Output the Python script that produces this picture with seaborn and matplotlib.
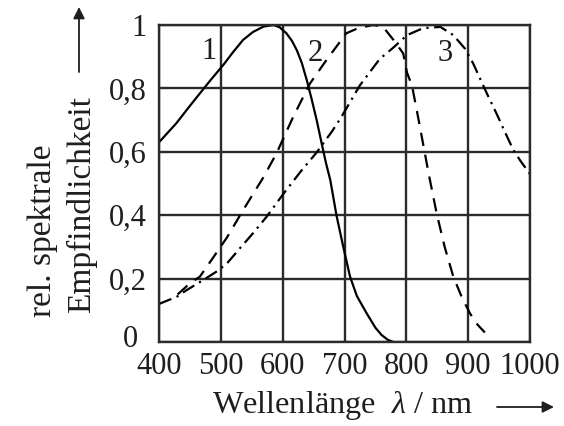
import numpy as np
import pandas as pd
import matplotlib
matplotlib.use("Agg")
import matplotlib.pyplot as plt
import matplotlib.transforms as mtransforms
import seaborn as sns

# ---- data ----
wl1 = [400, 428, 450, 466, 485, 504, 520, 536, 552, 569, 585, 595, 606, 615, 623, 631, 639, 647, 655, 663, 670, 677, 687, 698, 709, 720, 736, 750, 760, 770, 779]
s1 = [0.63, 0.69, 0.745, 0.784, 0.83, 0.874, 0.915, 0.953, 0.978, 0.995, 1.0, 0.993, 0.974, 0.95, 0.92, 0.88, 0.826, 0.765, 0.70, 0.627, 0.565, 0.511, 0.40, 0.30, 0.206, 0.145, 0.09, 0.045, 0.022, 0.007, 0.0]

wl2 = [430, 450, 466, 485, 510, 536, 569, 590, 617, 644, 671, 703, 722, 746, 762, 782, 795, 801, 809, 817, 828, 836, 849, 862, 876, 890, 903, 915, 927]
s2 = [0.15, 0.185, 0.206, 0.259, 0.33, 0.416, 0.52, 0.595, 0.71, 0.815, 0.89, 0.974, 0.99, 1.0, 0.995, 0.946, 0.91, 0.85, 0.81, 0.73, 0.616, 0.532, 0.406, 0.30, 0.206, 0.14, 0.09, 0.055, 0.03]

wl3 = [400, 429, 445, 472, 493, 510, 531, 552, 574, 601, 630, 655, 680, 695, 725, 757, 778, 801, 827, 855, 876, 895, 908, 930, 946, 960, 973, 985, 1000]
s3 = [0.12, 0.143, 0.164, 0.196, 0.222, 0.248, 0.296, 0.343, 0.395, 0.467, 0.54, 0.598, 0.665, 0.71, 0.81, 0.893, 0.927, 0.968, 0.99, 0.994, 0.968, 0.925, 0.879, 0.785, 0.72, 0.66, 0.606, 0.57, 0.53]

curve_labels = ["1", "2", "3"]
label_x = [481, 652, 862]
label_y = [0.915, 0.91, 0.91]

x_ticks = [400, 500, 600, 700, 800, 900, 1000]
x_ticklabels = ["400", "500", "600", "700", "800", "900", "1000"]
y_ticks = [0, 0.2, 0.4, 0.6, 0.8, 1.0]
y_ticklabels = ["0", "0,2", "0,4", "0,6", "0,8", "1"]

# ---- style ----
sns.set_style("white")
plt.rcParams["font.family"] = ["Liberation Serif", "DejaVu Serif"]
plt.rcParams["mathtext.fontset"] = "custom"
plt.rcParams["mathtext.it"] = "Liberation Serif:italic"
plt.rcParams["mathtext.rm"] = "Liberation Serif"

W, H = 564, 426
fig = plt.figure(figsize=(W / 100, H / 100), dpi=100)
ax = fig.add_axes([159 / W, 1 - 342 / H, (530 - 159) / W, (342 - 25) / H])

gridc = "#2b2b2b"
txtc = "#1e1e1e"
FS = 22

df1 = pd.DataFrame({"wl": wl1, "s": s1})
df2 = pd.DataFrame({"wl": wl2, "s": s2})
df3 = pd.DataFrame({"wl": wl3, "s": s3})

sns.lineplot(data=df1, x="wl", y="s", ax=ax, color="black", lw=1.6, estimator=None, sort=False)
sns.lineplot(data=df2, x="wl", y="s", ax=ax, color="black", lw=1.6, estimator=None, sort=False,
             linestyle=(0, (6, 4)))
sns.lineplot(data=df3, x="wl", y="s", ax=ax, color="black", lw=1.6, estimator=None, sort=False,
             linestyle=(0, (6, 2.5, 1, 2.5)))

for t, lx, ly in zip(curve_labels, label_x, label_y):
    ax.text(lx, ly, t, fontsize=FS, ha="center", va="center", color=txtc)

ax.set_xlim(400, 1000)
ax.set_ylim(0, 1)
ax.set_xticks(x_ticks)
ax.set_xticklabels(x_ticklabels, fontsize=FS)
ax.set_yticks(y_ticks)
ax.set_yticklabels(y_ticklabels, fontsize=FS)
ax.tick_params(length=0, colors=txtc)
ax.tick_params(axis="y", pad=9)
ax.tick_params(axis="x", pad=7)
ax.grid(True, color=gridc, lw=1.7)
ax.set_axisbelow(True)
for sp in ax.spines.values():
    sp.set_color(gridc)
    sp.set_linewidth(1.7)
    sp.set_visible(True)
ax.set_xlabel("")
ax.set_ylabel("")

# the "0" label sits a little left of and above its gridline in the reference
lab0 = ax.get_yticklabels()[0]
lab0.set_transform(lab0.get_transform() + mtransforms.ScaledTranslation(-8 / 100, 6 / 100, fig.dpi_scale_trans))

# axis titles with arrows
fig.text(212 / W, 1 - 405 / H, "Wellenlänge  $\\lambda$ / nm", fontsize=23.2, ha="left", va="center", color=txtc)
fig.text(43 / W, 1 - 317 / H, "rel. spektrale", fontsize=24, rotation=90, ha="center", va="bottom", color=txtc)
fig.text(82 / W, 1 - 313 / H, "Empfindlichkeit", fontsize=24, rotation=90, ha="center", va="bottom", color=txtc)

ax.annotate("", xy=(554 / W, 1 - 407 / H), xytext=(497 / W, 1 - 407 / H), xycoords="figure fraction",
            textcoords="figure fraction",
            arrowprops=dict(arrowstyle="-|>", color=txtc, lw=1.3, mutation_scale=17, shrinkA=0, shrinkB=0))
ax.annotate("", xy=(79 / W, 1 - 7 / H), xytext=(79 / W, 1 - 72 / H), xycoords="figure fraction",
            textcoords="figure fraction",
            arrowprops=dict(arrowstyle="-|>", color=txtc, lw=1.3, mutation_scale=17, shrinkA=0, shrinkB=0))

fig.savefig("out.png", dpi=100)
